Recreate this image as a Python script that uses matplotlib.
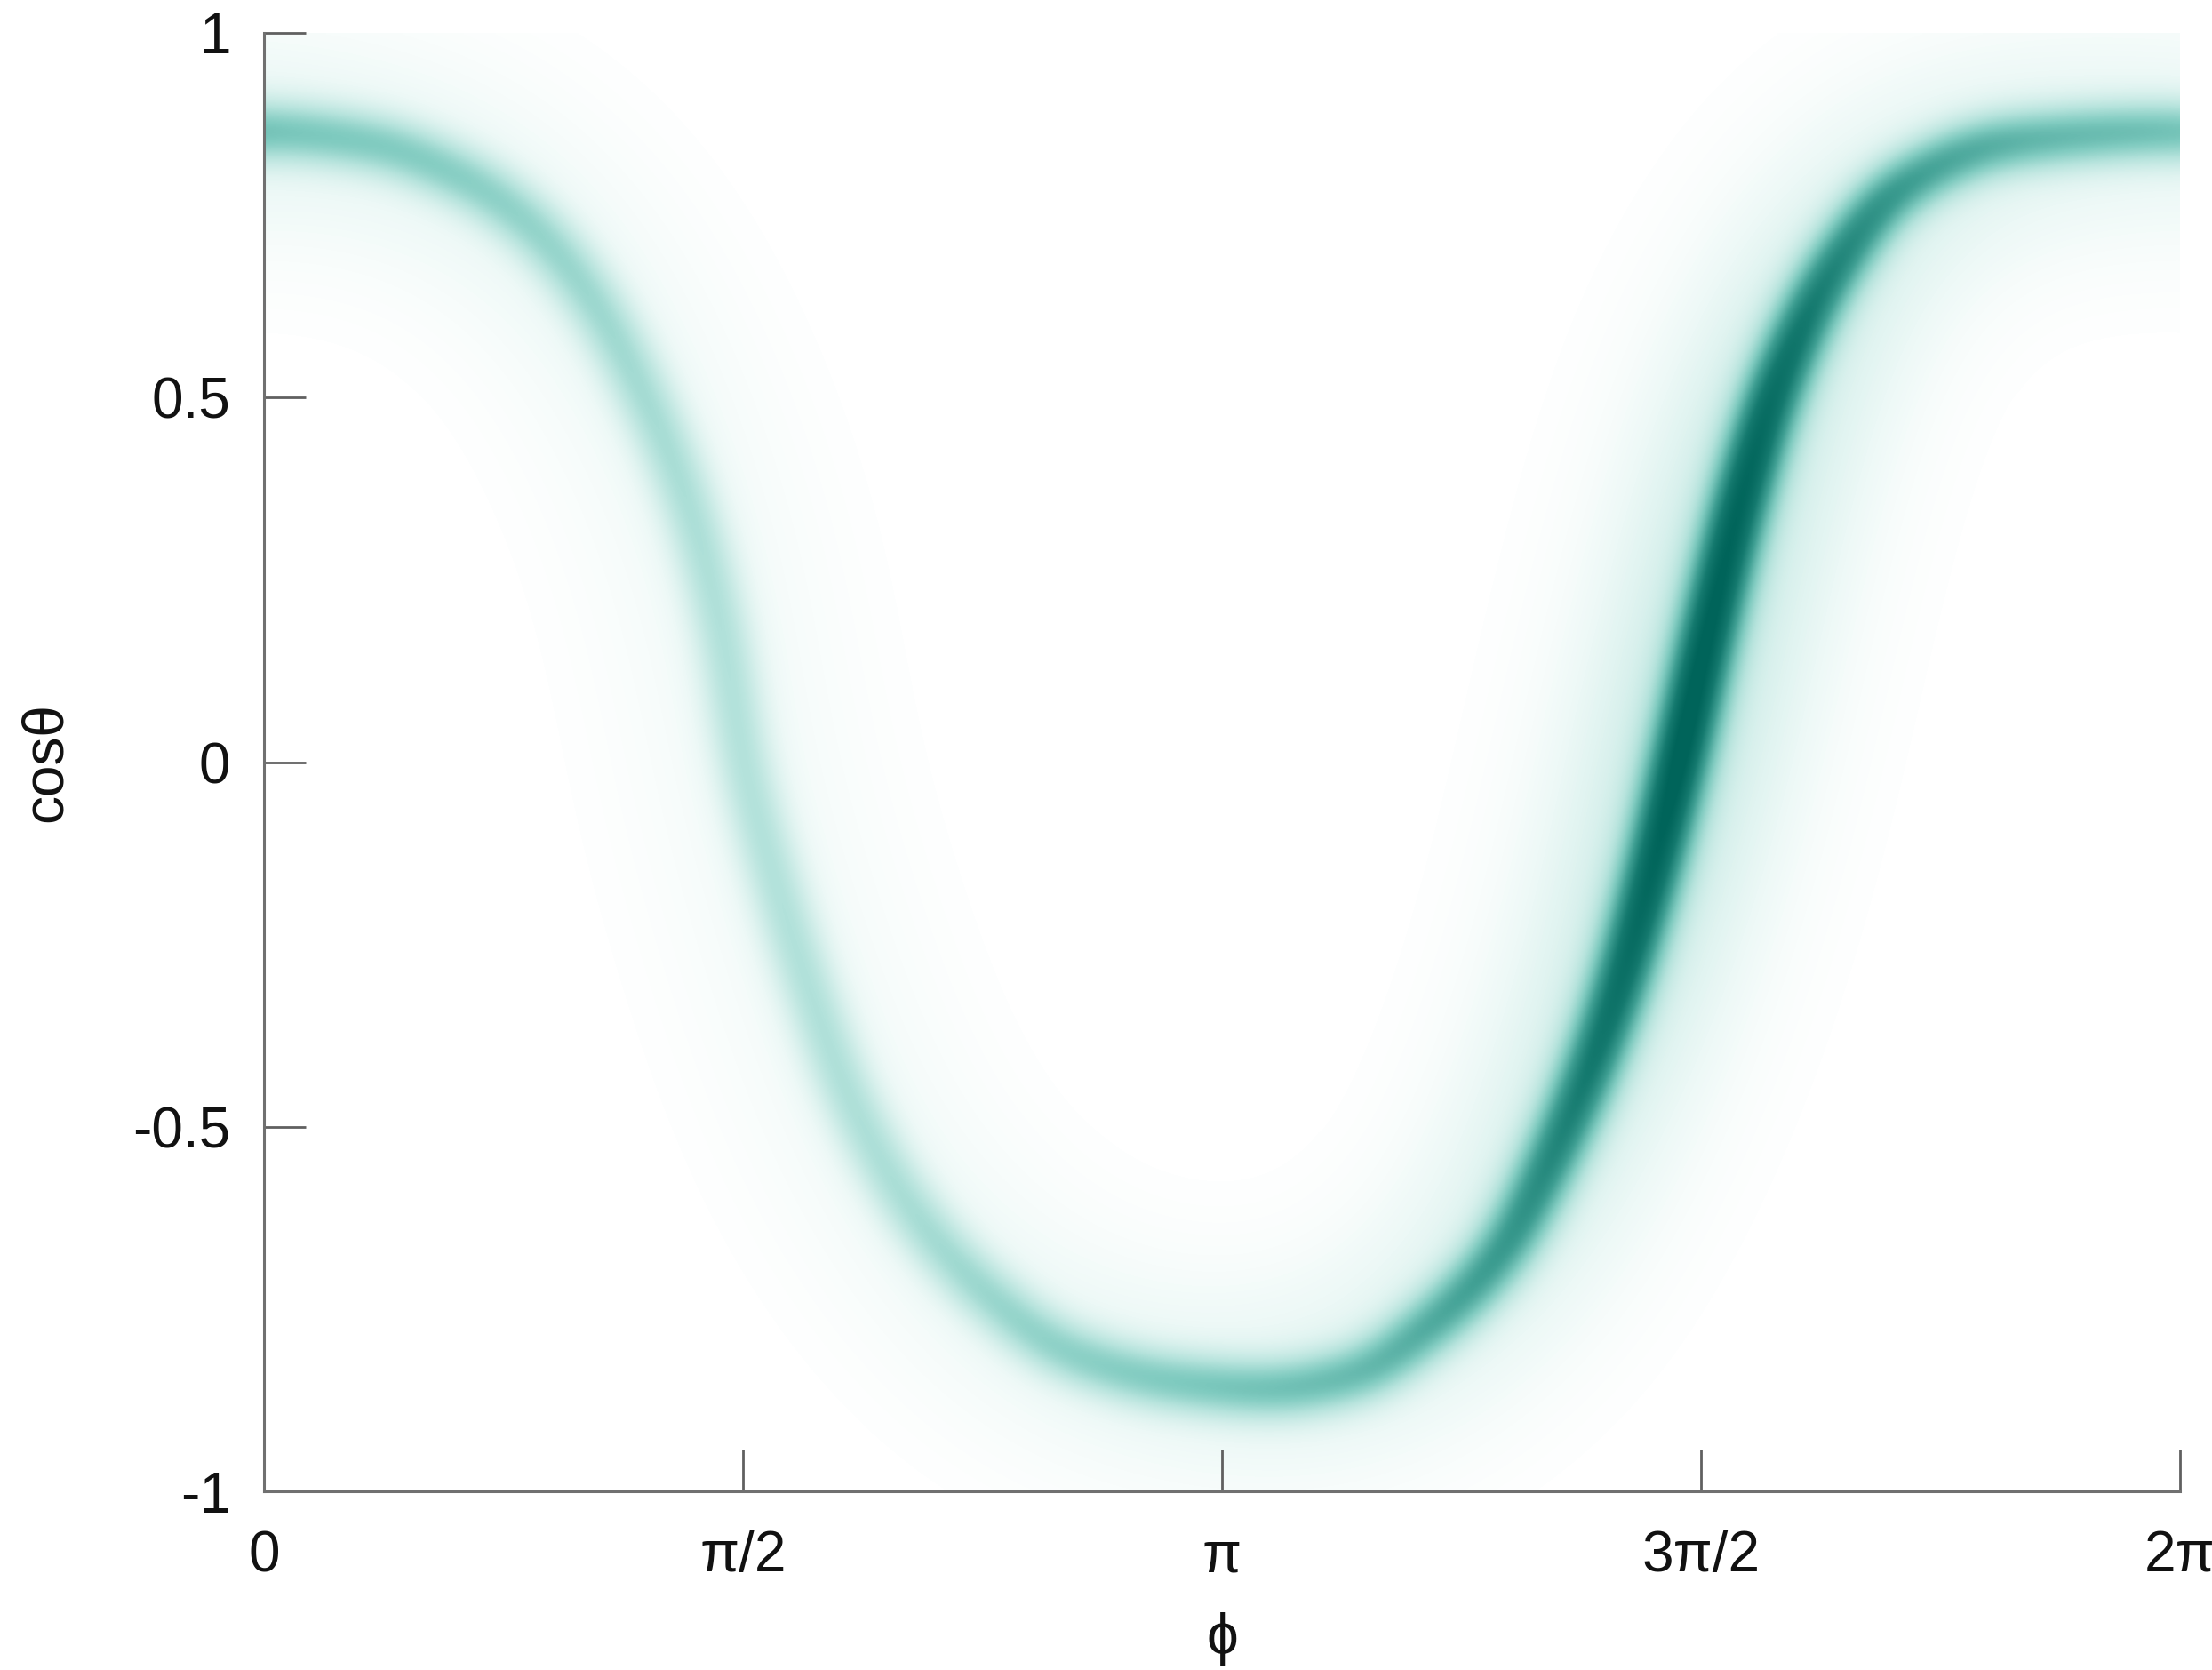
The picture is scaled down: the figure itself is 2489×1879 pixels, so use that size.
import numpy as np
import matplotlib.pyplot as plt
from matplotlib.colors import LinearSegmentedColormap

plt.rcParams['font.family'] = ['Liberation Sans', 'DejaVu Sans']
plt.rcParams['axes.unicode_minus'] = False

# ridge of the (phi, cos theta) distribution, phi given in units of pi
ridge_phi = np.array([0.0, 0.11, 0.21, 0.28, 0.34, 0.405, 0.449, 0.479, 0.501, 0.532,
                      0.569, 0.613, 0.68, 0.76, 0.84, 0.95, 1.05, 1.14, 1.21, 1.29,
                      1.345, 1.404, 1.448, 1.477, 1.507, 1.544, 1.58, 1.64, 1.71, 1.82, 2.0])
ridge_cos = np.array([0.865, 0.85, 0.80, 0.735, 0.64, 0.48, 0.33, 0.174, 0.0, -0.155,
                      -0.31, -0.465, -0.62, -0.735, -0.81, -0.85, -0.86, -0.84, -0.78, -0.675,
                      -0.54, -0.35, -0.155, 0.0, 0.174, 0.37, 0.52, 0.68, 0.79, 0.85, 0.865])

# relative density along the ridge
weight_phi = np.array([0.0, 0.2, 0.35, 0.5, 0.65, 0.8, 1.0, 1.15, 1.3, 1.4, 1.48, 1.55, 1.62, 1.72, 1.85, 2.0])
weight_val = np.array([0.40, 0.36, 0.30, 0.24, 0.26, 0.33, 0.40, 0.45, 0.60, 0.80, 1.0, 0.92, 0.74, 0.56, 0.46, 0.42])

xtick_pos = np.array([0, 0.5, 1, 1.5, 2]) * np.pi
xtick_lab = ['0', 'π/2', 'π', '3π/2', '2π']
ytick_pos = [-1, -0.5, 0, 0.5, 1]
ytick_lab = ['-1', '-0.5', '0', '0.5', '1']


def pchip(x, y, xn):
    # monotone cubic through the ridge points, flat at both ends
    h = np.diff(x)
    delta = np.diff(y) / h
    m = np.zeros_like(y)
    for k in range(1, len(y) - 1):
        if delta[k - 1] * delta[k] > 0:
            w1 = 2 * h[k] + h[k - 1]
            w2 = h[k] + 2 * h[k - 1]
            m[k] = (w1 + w2) / (w1 / delta[k - 1] + w2 / delta[k])
    i = np.clip(np.searchsorted(x, xn) - 1, 0, len(x) - 2)
    t = (xn - x[i]) / h[i]
    return ((2 * t**3 - 3 * t**2 + 1) * y[i] + (t**3 - 2 * t**2 + t) * h[i] * m[i]
            + (-2 * t**3 + 3 * t**2) * y[i + 1] + (t**3 - t**2) * h[i] * m[i + 1])


W, H = 2156, 1641   # axes size in pixels
fig = plt.figure(figsize=(24.89, 18.79), dpi=100)
ax = fig.add_axes([297 / 2489, 1 - 1678 / 1879, W / 2489, H / 1879])

# ridge in pixel space, periodic in phi, resampled by arc length
pf = np.linspace(-0.3, 2.3, 30000)
cx = pf / 2 * W
cy = (pchip(ridge_phi, ridge_cos, np.mod(pf, 2)) + 1) / 2 * H
cw = np.interp(np.mod(pf, 2), weight_phi, weight_val)
arc = np.concatenate([[0], np.cumsum(np.hypot(np.diff(cx), np.diff(cy)))])
step = 3.0
s = np.arange(0, arc[-1], step)
sx, sy, sw = np.interp(s, arc, cx), np.interp(s, arc, cy), np.interp(s, arc, cw)

# splat gaussians along the ridge: core plus a wide faint haze
cell = 3.0
nx, ny = int(W / cell), int(H / cell)
gx = (np.arange(nx) + 0.5) * W / nx
gy = (np.arange(ny) + 0.5) * H / ny
sig1, sig2, haze = 24.0, 90.0, 0.22
norm = step / (np.sqrt(2 * np.pi) * sig1)
a2 = haze * sig1 / sig2
half = int(3.2 * sig2 / cell)
dens = np.zeros((ny, nx))
for x0, y0, w0 in zip(sx, sy, sw):
    i0, j0 = int(x0 / cell), int(y0 / cell)
    i1, i2 = max(i0 - half, 0), min(i0 + half + 1, nx)
    j1, j2 = max(j0 - half, 0), min(j0 + half + 1, ny)
    if i1 >= i2 or j1 >= j2:
        continue
    r2 = (gy[j1:j2, None] - y0) ** 2 + (gx[None, i1:i2] - x0) ** 2
    dens[j1:j2, i1:i2] += w0 * norm * (np.exp(-r2 / (2 * sig1**2)) + a2 * np.exp(-r2 / (2 * sig2**2)))

cmap = LinearSegmentedColormap.from_list('teal', [
    (0.0, '#ffffff'), (0.06, '#eef9f7'), (0.25, '#b5e3dc'), (0.4, '#80cbc0'),
    (0.6, '#3f9f93'), (0.8, '#157a6f'), (1.0, '#00645a')])
ax.imshow(dens, extent=[0, 2 * np.pi, -1, 1], origin='lower', aspect='auto',
          cmap=cmap, vmin=0, vmax=1.16, interpolation='bilinear', zorder=0)

ax.set_xlim(0, 2 * np.pi)
ax.set_ylim(-1, 1)
for sp in ['top', 'right']:
    ax.spines[sp].set_visible(False)
for sp in ['left', 'bottom']:
    ax.spines[sp].set_color('#707070')
    ax.spines[sp].set_linewidth(2.2)

ax.set_xticks(xtick_pos)
ax.set_xticklabels(xtick_lab)
ax.set_yticks(ytick_pos)
ax.set_yticklabels(ytick_lab)
ax.tick_params(axis='both', direction='in', length=34, width=2, color='#606060',
               labelsize=46, labelcolor='#111111')
ax.tick_params(axis='x', pad=31)
ax.tick_params(axis='y', pad=27)

ax.set_xlabel('ϕ', fontsize=46, color='#111111')
ax.set_ylabel('cosθ', fontsize=46, color='#111111')
ax.xaxis.set_label_coords(0.5, -0.083)
ax.yaxis.set_label_coords(-0.100, 0.5)

fig.savefig('out.png', dpi=100)
